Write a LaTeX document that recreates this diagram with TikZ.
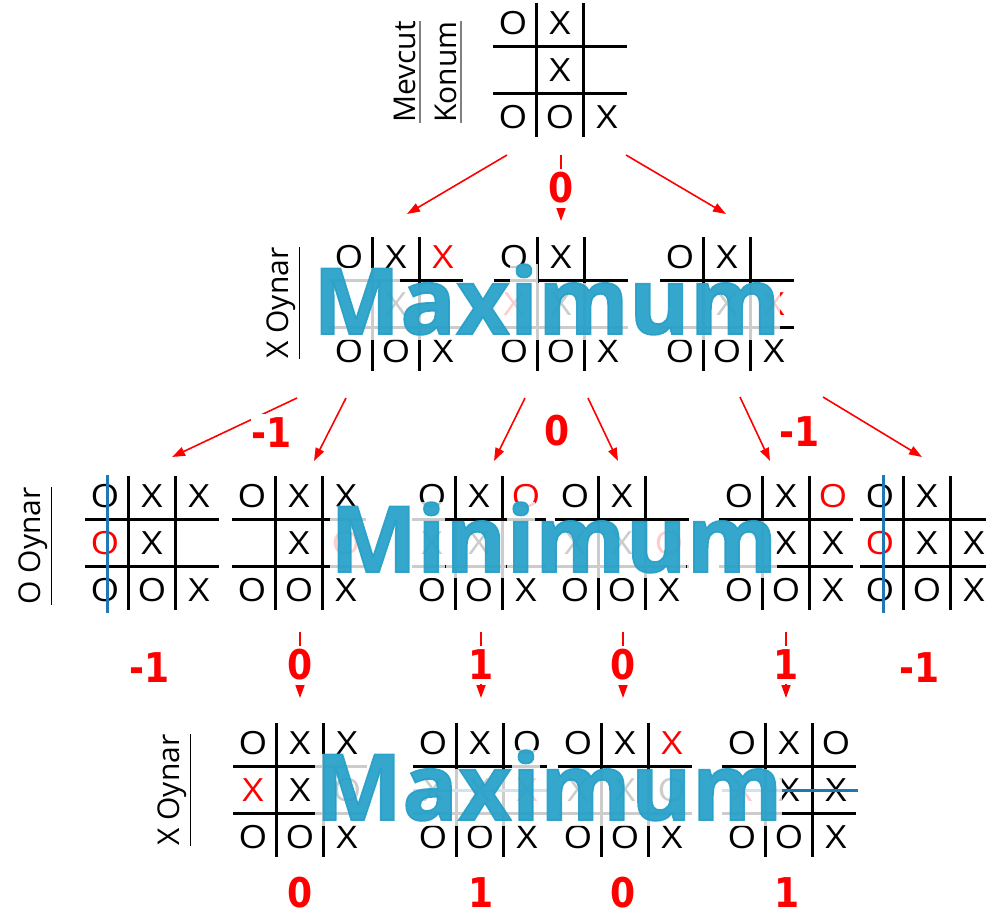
\documentclass[tikz,border=0pt]{standalone}
\usepackage{fontspec}
\setmainfont{Open Sans}
\newfontfamily\valfont{DejaVu Sans}
\newfontfamily\bigfont{Open Sans}[BoldFeatures={FakeBold=1.8}]
\usetikzlibrary{arrows.meta,calc}
\definecolor{wordblue}{RGB}{38,160,200}
\definecolor{winblue}{RGB}{31,119,180}
\newcommand\tttboard[4]{%
  \coordinate (#1) at (#2,#3);
  \foreach \d in {-23.5,23.5}{%
    \draw[gl] ([shift={(\d,-67)}]#1) -- ([shift={(\d,67)}]#1);
    \draw[gl] ([shift={(-67,\d)}]#1) -- ([shift={(67,\d)}]#1);}
  \foreach \r/\c/\s/\k in {#4}{%
    \node[sym,text=\k] (#1-\r\c) at ([shift={({(\c-2)*47},{(\r-2)*47})}]#1) {\s};}%
}
\begin{document}
\begin{tikzpicture}[x=1pt,y=-1pt,
  gl/.style={line width=3.3pt,black},
  sym/.style={inner sep=0pt,font=\fontsize{32}{32}\selectfont,xscale=1.15},
  arr/.style={red,line width=1.6pt,-{Triangle[length=13pt,width=9pt]}},
  val/.style={text=red,font=\valfont\bfseries\fontsize{41}{41}\selectfont,inner xsep=1pt,inner ysep=4pt,fill=white,xscale=0.88},
  lbl/.style={rotate=90,font=\fontsize{30}{30}\selectfont,inner xsep=0pt,inner ysep=4pt},
  ul/.style={line width=1.5pt,black},
  win/.style={winblue,line width=3pt},
  bw/.style={anchor=base west,inner sep=0pt,text depth=6pt,fill=white,fill opacity=0.8,text=wordblue,text opacity=0.93,font=\bigfont\bfseries\fontsize{92}{92}\selectfont}
]
\useasboundingbox (0,0) rectangle (986,922);

% ---------- boards ----------
\tttboard{T}{560}{70}{1/1/O/black,1/2/X/black,2/2/X/black,3/1/O/black,3/2/O/black,3/3/X/black}

\tttboard{A}{396}{304}{1/1/O/black,1/2/X/black,1/3/X/red,2/2/X/black,3/1/O/black,3/2/O/black,3/3/X/black}
\tttboard{B}{561}{304}{1/1/O/black,1/2/X/black,2/1/X/red,2/2/X/black,3/1/O/black,3/2/O/black,3/3/X/black}
\tttboard{C}{727}{304}{1/1/O/black,1/2/X/black,2/2/X/black,2/3/X/red,3/1/O/black,3/2/O/black,3/3/X/black}

\tttboard{D}{152}{543}{1/1/O/black,1/2/X/black,1/3/X/black,2/1/O/red,2/2/X/black,3/1/O/black,3/2/O/black,3/3/X/black}
\tttboard{E}{299}{543}{1/1/O/black,1/2/X/black,1/3/X/black,2/2/X/black,2/3/O/red,3/1/O/black,3/2/O/black,3/3/X/black}
\tttboard{F}{479}{543}{1/1/O/black,1/2/X/black,1/3/O/red,2/1/X/black,2/2/X/black,3/1/O/black,3/2/O/black,3/3/X/black}
\tttboard{G}{622}{543}{1/1/O/black,1/2/X/black,2/1/X/black,2/2/X/black,2/3/O/red,3/1/O/black,3/2/O/black,3/3/X/black}
\tttboard{H}{786}{543}{1/1/O/black,1/2/X/black,1/3/O/red,2/2/X/black,2/3/X/black,3/1/O/black,3/2/O/black,3/3/X/black}
\tttboard{I}{927}{543}{1/1/O/black,1/2/X/black,2/1/O/red,2/2/X/black,2/3/X/black,3/1/O/black,3/2/O/black,3/3/X/black}

\tttboard{J}{300}{790}{1/1/O/black,1/2/X/black,1/3/X/black,2/1/X/red,2/2/X/black,2/3/O/black,3/1/O/black,3/2/O/black,3/3/X/black}
\tttboard{K}{480}{790}{1/1/O/black,1/2/X/black,1/3/O/black,2/1/X/black,2/2/X/black,2/3/X/red,3/1/O/black,3/2/O/black,3/3/X/black}
\tttboard{L}{625}{790}{1/1/O/black,1/2/X/black,1/3/X/red,2/1/X/black,2/2/X/black,2/3/O/black,3/1/O/black,3/2/O/black,3/3/X/black}
\tttboard{M}{789}{790}{1/1/O/black,1/2/X/black,1/3/O/black,2/1/X/red,2/2/X/black,2/3/X/black,3/1/O/black,3/2/O/black,3/3/X/black}

% ---------- win lines ----------
\draw[win] ([shift={(-45,-68)}]D) -- ([shift={(-45,70)}]D);
\draw[win] ([shift={(-44,-68)}]I) -- ([shift={(-44,70)}]I);
\draw[win] ([shift={(-67,0)}]K) -- ([shift={(68,0)}]K);
\draw[win] ([shift={(-67,0)}]M) -- ([shift={(69,0)}]M);

% ---------- row labels ----------
\node[lbl] (lm) at (405,72) {Mevcut};
\node[lbl] (lk) at (446,72) {Konum};
\draw[ul,gray] (lm.south west) -- (lm.south east);
\draw[ul,gray] (lk.south west) -- (lk.south east);
\node[lbl] (l1) at (281,303) {X Oynar};
\draw[ul] (l1.south west) -- (l1.south east);
\node[lbl] (l2) at (33,546) {O Oynar};
\draw[ul] (l2.south west) -- (l2.south east);
\node[lbl] (l3) at (172,790) {X Oynar};
\draw[ul] (l3.south west) -- (l3.south east);

% ---------- arrows ----------
\coordinate (tl0) at (507,155); \coordinate (tl1) at (407,214);
\coordinate (tr0) at (626,155); \coordinate (tr1) at (726,214);
\coordinate (tm0) at (561,155); \coordinate (tm1) at (561,221);
\draw[arr] (tl0) -- (tl1);
\draw[arr] (tr0) -- (tr1);
\draw[arr] (tm0) -- node[val] (v0) {0} (tm1);

\coordinate (al0) at (297,398); \coordinate (al1) at (172,457);
\coordinate (ar0) at (346,398); \coordinate (ar1) at (314,461);
\coordinate (bl0) at (525,398); \coordinate (bl1) at (494,461);
\coordinate (br0) at (588,398); \coordinate (br1) at (618,461);
\coordinate (cl0) at (740,397); \coordinate (cl1) at (770,461);
\coordinate (cr0) at (823,397); \coordinate (cr1) at (922,457);
\foreach \p in {al,ar,bl,br,cl,cr}{\draw[arr] (\p0) -- (\p1);}
\node[val] (va) at (272,433) {-1};
\node[val] (vb) at (557,431) {0};
\node[val] (vc) at (800,432) {-1};

% level 2 values
\node[val] (vd) at (150,668) {-1};
\node[val] (vi) at (920,668) {-1};
\foreach \n/\x/\v in {e/300/0,f/481/1,g/623/0,h/786/1}{%
  \coordinate (\n0) at (\x,632); \coordinate (\n1) at (\x,698);
  \draw[arr] (\n0) -- node[val] (v\n) {\v} (\n1);}

% level 3 values
\node[val] (vj) at (300,893) {0};
\node[val] (vk) at (481,893) {1};
\node[val] (vl) at (623,893) {0};
\node[val] (vm) at (787,893) {1};

% ---------- big words ----------
\node[bw] (w1a) at (313,334) {M};
\node[bw] (w1b) at (w1a.base east) {a};
\node[bw] (w1c) at (w1b.base east) {x};
\node[bw] (w1d) at (w1c.base east) {i};
\node[bw] (w1e) at (w1d.base east) {m};
\node[bw] (w1f) at (w1e.base east) {u};
\node[bw] (w1g) at (w1f.base east) {m};

\node[bw] (w2a) at (330,572) {M};
\node[bw] (w2b) at (w2a.base east) {i};
\node[bw] (w2c) at (w2b.base east) {n};
\node[bw] (w2d) at (w2c.base east) {i};
\node[bw] (w2e) at (w2d.base east) {m};
\node[bw] (w2f) at (w2e.base east) {u};
\node[bw] (w2g) at (w2f.base east) {m};

\node[bw] (w3a) at (315,820) {M};
\node[bw] (w3b) at (w3a.base east) {a};
\node[bw] (w3c) at (w3b.base east) {x};
\node[bw] (w3d) at (w3c.base east) {i};
\node[bw] (w3e) at (w3d.base east) {m};
\node[bw] (w3f) at (w3e.base east) {u};
\node[bw] (w3g) at (w3f.base east) {m};
\end{tikzpicture}
\end{document}
